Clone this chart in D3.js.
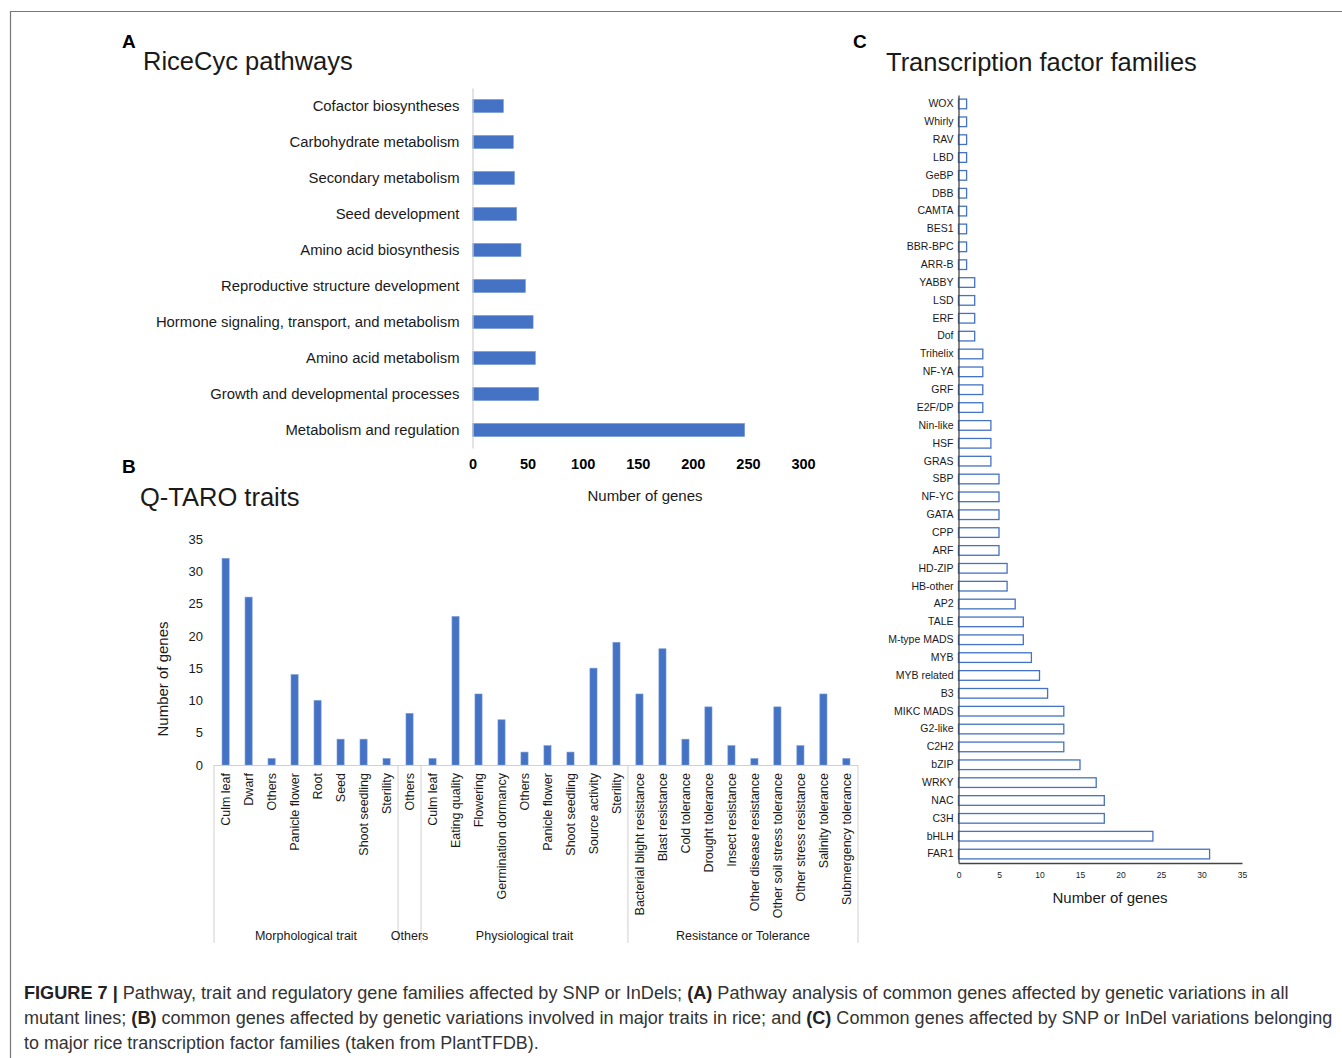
<!DOCTYPE html>
<html>
<head>
<meta charset="utf-8">
<script src="https://cdn.jsdelivr.net/npm/d3@7/dist/d3.min.js"></script>
<style>
  html, body { margin: 0; padding: 0; background: #fff; }
  svg { display: block; font-family: "Liberation Sans", Arial, sans-serif; }
</style>
</head>
<body>
<svg id="fig" width="1342" height="1058"></svg>
<script>
// ---- Panel A: RiceCyc pathways ----
const pathways = [
  "Cofactor biosyntheses", "Carbohydrate metabolism", "Secondary metabolism",
  "Seed development", "Amino acid biosynthesis", "Reproductive structure development",
  "Hormone signaling, transport, and metabolism", "Amino acid metabolism",
  "Growth and developmental processes", "Metabolism and regulation"
];
const pathwayGenes = [28, 37, 38, 40, 44, 48, 55, 57, 60, 247];
const pathwayTicks = [0, 50, 100, 150, 200, 250, 300];

// ---- Panel B: Q-TARO traits ----
const traits = [
  "Culm leaf", "Dwarf", "Others", "Panicle flower", "Root", "Seed", "Shoot seedling", "Sterility",
  "Others",
  "Culm leaf", "Eating quality", "Flowering", "Germination dormancy", "Others", "Panicle flower",
  "Shoot seedling", "Source activity", "Sterility",
  "Bacterial blight resistance", "Blast resistance", "Cold tolerance", "Drought tolerance",
  "Insect resistance", "Other disease resistance", "Other soil stress tolerance",
  "Other stress resistance", "Salinity tolerance", "Submergency tolerance"
];
const traitGenes = [32, 26, 1, 14, 10, 4, 4, 1, 8, 1, 23, 11, 7, 2, 3, 2, 15, 19, 11, 18, 4, 9, 3, 1, 9, 3, 11, 1];
const traitGroups = ["Morphological trait", "Others", "Physiological trait", "Resistance or Tolerance"];
const traitGroupSizes = [8, 1, 9, 10];
const traitTicks = [0, 5, 10, 15, 20, 25, 30, 35];

// ---- Panel C: transcription factor families ----
const families = [
  "WOX", "Whirly", "RAV", "LBD", "GeBP", "DBB", "CAMTA", "BES1", "BBR-BPC", "ARR-B",
  "YABBY", "LSD", "ERF", "Dof", "Trihelix", "NF-YA", "GRF", "E2F/DP", "Nin-like", "HSF",
  "GRAS", "SBP", "NF-YC", "GATA", "CPP", "ARF", "HD-ZIP", "HB-other", "AP2", "TALE",
  "M-type MADS", "MYB", "MYB related", "B3", "MIKC MADS", "G2-like", "C2H2", "bZIP",
  "WRKY", "NAC", "C3H", "bHLH", "FAR1"
];
const familyGenes = [
  1, 1, 1, 1, 1, 1, 1, 1, 1, 1,
  2, 2, 2, 2, 3, 3, 3, 3, 4, 4,
  4, 5, 5, 5, 5, 5, 6, 6, 7, 8,
  8, 9, 10, 11, 13, 13, 13, 15,
  17, 18, 18, 24, 31
];
const familyTicks = [0, 5, 10, 15, 20, 25, 30, 35];

const BLUE = "#4472C4";
const TEXT = "#1a1a1a";

const svg = d3.select("#fig");
svg.append("rect").attr("width", 1342).attr("height", 1058).attr("fill", "#fff");

// figure frame (top and left edges)
svg.append("line").attr("x1", 10).attr("x2", 1342).attr("y1", 11.5).attr("y2", 11.5)
  .attr("stroke", "#777").attr("stroke-width", 1.2);
svg.append("line").attr("x1", 10.5).attr("x2", 10.5).attr("y1", 11).attr("y2", 1058)
  .attr("stroke", "#777").attr("stroke-width", 1.2);

// panel letters and titles
function panelLetter(x, y, t) {
  svg.append("text").attr("x", x).attr("y", y).text(t)
    .attr("font-size", 19).attr("font-weight", "bold").attr("fill", "#000");
}
function panelTitle(x, y, t) {
  svg.append("text").attr("x", x).attr("y", y).text(t)
    .attr("font-size", 25.5).attr("fill", TEXT);
}
panelLetter(122, 48, "A");
panelTitle(143, 70, "RiceCyc pathways");
panelLetter(122, 473, "B");
panelTitle(140, 506, "Q-TARO traits");
panelLetter(853, 48, "C");
panelTitle(886, 71, "Transcription factor families");

// ================= Panel A =================
{
  const x = d3.scaleLinear().domain([0, 300]).range([472.5, 803]);
  const y = d3.scaleBand().domain(pathways).range([88, 448]).paddingInner(0.64).paddingOuter(0.32);
  const g = svg.append("g");

  g.selectAll("rect.bar").data(pathways).join("rect")
    .attr("class", "bar")
    .attr("x", x(0))
    .attr("y", d => y(d))
    .attr("width", (d, i) => x(pathwayGenes[i]) - x(0))
    .attr("height", y.bandwidth())
    .attr("fill", BLUE)
    .attr("stroke", "#6f93d3").attr("stroke-width", 0.6);

  // category axis
  const yAxis = g.append("g").attr("transform", `translate(${x(0)},0)`)
    .call(d3.axisLeft(y).tickSize(0).tickPadding(13));
  yAxis.select(".domain").attr("stroke", "#d0d0d0").attr("stroke-width", 1.2);
  yAxis.selectAll("text").attr("font-size", 14.85).attr("fill", TEXT)
    .attr("font-family", "\"Liberation Sans\", Arial, sans-serif");

  // value axis
  const xAxis = g.append("g").attr("transform", "translate(0,459)")
    .call(d3.axisBottom(x).tickValues(pathwayTicks).tickSize(0).tickPadding(0));
  xAxis.select(".domain").remove();
  xAxis.selectAll("text").attr("font-size", 14.5).attr("font-weight", "bold").attr("fill", "#000")
    .attr("font-family", "\"Liberation Sans\", Arial, sans-serif");

  g.append("text").attr("x", 645).attr("y", 501).attr("text-anchor", "middle")
    .attr("font-size", 15).attr("fill", TEXT).text("Number of genes");
}

// ================= Panel B =================
{
  const idx = d3.range(traits.length);
  const x = d3.scaleBand().domain(idx).range([214, 858]).paddingInner(0.69).paddingOuter(0.35);
  const y = d3.scaleLinear().domain([0, 35]).range([765, 539]);
  const g = svg.append("g");

  g.selectAll("rect.bar").data(idx).join("rect")
    .attr("class", "bar")
    .attr("x", i => x(i))
    .attr("y", i => y(traitGenes[i]))
    .attr("width", x.bandwidth())
    .attr("height", i => y(0) - y(traitGenes[i]))
    .attr("fill", BLUE)
    .attr("stroke", "#7b9bd6").attr("stroke-width", 0.6);

  // value axis (labels only)
  const yAxis = g.append("g").attr("transform", "translate(208,0)")
    .call(d3.axisLeft(y).tickValues(traitTicks).tickSize(0).tickPadding(5));
  yAxis.select(".domain").remove();
  yAxis.selectAll("text").attr("font-size", 13).attr("fill", TEXT)
    .attr("font-family", "\"Liberation Sans\", Arial, sans-serif");

  g.append("text")
    .attr("transform", "translate(168,679) rotate(-90)")
    .attr("text-anchor", "middle").attr("font-size", 15).attr("fill", TEXT)
    .text("Number of genes");

  // category baseline
  g.append("line").attr("x1", 214).attr("x2", 858).attr("y1", 765.5).attr("y2", 765.5)
    .attr("stroke", "#d0d0d0").attr("stroke-width", 1);

  // rotated category labels
  g.selectAll("text.cat").data(idx).join("text")
    .attr("class", "cat")
    .attr("transform", i => `translate(${x(i) + x.bandwidth() / 2 + 4.5},773) rotate(-90)`)
    .attr("text-anchor", "end")
    .attr("font-size", 12.5).attr("fill", TEXT)
    .text(i => traits[i]);

  // group separators and group labels
  const bounds = [0];
  traitGroupSizes.forEach(n => bounds.push(bounds[bounds.length - 1] + n));
  const step = x.step();
  const edge = k => k === 0 ? 214 : (k === traits.length ? 858 : x(k) - (step - x.bandwidth()) / 2);
  bounds.forEach(k => {
    g.append("line").attr("x1", edge(k)).attr("x2", edge(k)).attr("y1", 765).attr("y2", 943)
      .attr("stroke", "#d0d0d0").attr("stroke-width", 1);
  });
  traitGroups.forEach((name, j) => {
    const cx = (edge(bounds[j]) + edge(bounds[j + 1])) / 2;
    g.append("text").attr("x", cx).attr("y", 940).attr("text-anchor", "middle")
      .attr("font-size", 12.5).attr("fill", TEXT).text(name);
  });
}

// ================= Panel C =================
{
  const x = d3.scaleLinear().domain([0, 35]).range([958.5, 1242]);
  const y = d3.scaleBand().domain(families).range([95, 863]).paddingInner(0.46).paddingOuter(0.23);
  const g = svg.append("g");

  g.selectAll("rect.bar").data(families).join("rect")
    .attr("class", "bar")
    .attr("x", x(0))
    .attr("y", d => y(d))
    .attr("width", (d, i) => x(familyGenes[i]) - x(0))
    .attr("height", y.bandwidth())
    .attr("fill", "#fff")
    .attr("stroke", BLUE).attr("stroke-width", 1.3);

  const yAxis = g.append("g").attr("transform", `translate(${x(0)},0)`)
    .call(d3.axisLeft(y).tickSize(0).tickPadding(5));
  yAxis.select(".domain").attr("stroke", "#444").attr("stroke-width", 1.3);
  yAxis.selectAll("text").attr("font-size", 10.5).attr("fill", TEXT)
    .attr("font-family", "\"Liberation Sans\", Arial, sans-serif");

  const xAxis = g.append("g").attr("transform", "translate(0,863)")
    .call(d3.axisBottom(x).tickValues(familyTicks).tickSize(0).tickPadding(9));
  xAxis.select(".domain").attr("stroke", "#444").attr("stroke-width", 1.3);
  xAxis.selectAll("text").attr("font-size", 8.5).attr("fill", TEXT)
    .attr("font-family", "\"Liberation Sans\", Arial, sans-serif");

  g.append("text").attr("x", 1110).attr("y", 903).attr("text-anchor", "middle")
    .attr("font-size", 15).attr("fill", TEXT).text("Number of genes");
}

// ================= Caption =================
// Each line is set in a horizontally condensed group so it fills its measure.
const captionLines = [
  [["FIGURE 7 | ", true], ["Pathway, trait and regulatory gene families affected by SNP or InDels; ", false],
   ["(A)", true], [" Pathway analysis of common genes affected by genetic variations in all", false]],
  [["mutant lines; ", false], ["(B)", true], [" common genes affected by genetic variations involved in major traits in rice; and ", false],
   ["(C)", true], [" Common genes affected by SNP or InDel variations belonging", false]],
  [["to major rice transcription factor families (taken from PlantTFDB).", false]]
];
const captionWidths = [1265, 1310, 515];
const captionY = [999, 1024, 1049];
captionLines.forEach((parts, li) => {
  const grp = svg.append("g");
  const t = grp.append("text").attr("x", 0).attr("y", 0)
    .attr("font-size", 18.5).attr("fill", "#333")
    .attr("font-family", "\"Liberation Sans Narrow\", \"Liberation Sans\", Arial, sans-serif")
    .attr("xml:space", "preserve");
  parts.forEach(([s, bold]) => {
    t.append("tspan").text(s).attr("font-weight", bold ? "bold" : "normal")
      .attr("fill", bold ? "#222" : "#333");
  });
  const natural = t.node().getComputedTextLength();
  const k = captionWidths[li] / natural;
  grp.attr("transform", `translate(24,${captionY[li]}) scale(${k},1)`);
});
</script>
</body>
</html>
